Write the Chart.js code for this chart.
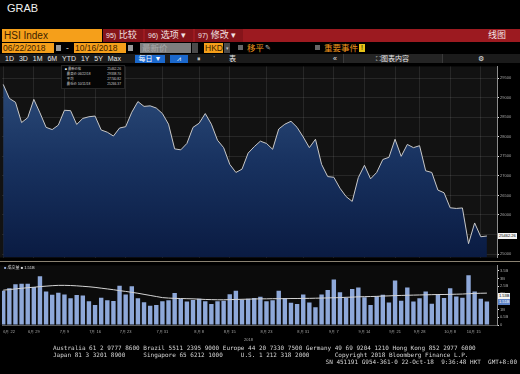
<!DOCTYPE html>
<html>
<head>
<meta charset="utf-8">
<script src="https://cdn.jsdelivr.net/npm/chart.js@4.4.1/dist/chart.umd.min.js"></script>
<style>
  body { margin: 0; background: #000; }
  #page { position: relative; width: 520px; height: 374px; overflow: hidden; background: #000;
          font-family: "Liberation Sans", "Noto Sans CJK SC", sans-serif; color: #ddd; }
  .abs { position: absolute; white-space: nowrap; box-sizing: border-box; }
  .orange { background: #f59f1a; color: #3c1e00; }
  .seg { top: 29px; height: 13px; line-height: 13px; background: #86141a; color: #f3e3e3; font-size: 9px; padding-left: 3px; }
  .row2 { top: 43px; height: 10px; line-height: 10px; font-size: 8.5px; }
  .row3 { top: 55px; height: 8px; line-height: 8px; font-size: 7px; color: #e8e8e8; }
  .blueBtn { background: #1b68cc; color: #fff; text-align: center; }
  .legendRow { display: flex; justify-content: space-between; }
  .tag { font-size: 4px; height: 6px; line-height: 6px; padding: 0 1px; }
  .foot { font-family: "DejaVu Sans Mono", monospace; font-size: 6px; color: #d6d6d6; white-space: pre; }
  canvas { position: absolute; left: 0; }
</style>
</head>
<body>
<div id="page">
  <div class="abs" style="left:7px;top:2px;font-size:11px;color:#f0f0f0">GRAB</div>

  <!-- toolbar row 1 -->
  <div class="abs orange" style="left:2px;top:29px;width:100px;height:13px;line-height:13px;font-size:10px;padding-left:2px">HSI Index</div>
  <div class="abs" style="left:103px;top:29px;width:417px;height:13px;background:#9c1a20"></div>
  <div class="abs seg" style="left:103px;width:40px"><span style="font-size:7px">95)</span> 比较</div>
  <div class="abs seg" style="left:145px;width:48px"><span style="font-size:7px">96)</span> 选项 ▾</div>
  <div class="abs seg" style="left:195px;width:48px"><span style="font-size:7px">97)</span> 修改 ▾</div>
  <div class="abs" style="left:488px;top:29px;height:13px;line-height:13px;font-size:9px;color:#f3e3e3">线图</div>

  <!-- toolbar row 2 -->
  <div class="abs row2 orange" style="left:2px;width:52px;padding-left:1px">06/22/2018</div>
  <div class="abs row2" style="left:56px;width:5px;height:6px;top:45px;background:#9a9a9a"></div>
  <div class="abs row2" style="left:66px;color:#ddd">-</div>
  <div class="abs row2 orange" style="left:74px;width:52px;padding-left:1px">10/16/2018</div>
  <div class="abs row2" style="left:128px;width:5px;height:6px;top:45px;background:#9a9a9a"></div>
  <div class="abs row2" style="left:140px;width:51px;background:#7e7e7e;color:#a9a9a9;padding-left:2px">最新价</div>
  <div class="abs row2" style="left:192px;width:6px;background:#4a4a4a"></div>
  <div class="abs row2 orange" style="left:204px;width:19px;padding-left:1px">HKD</div>
  <div class="abs row2" style="left:224px;width:6px;background:#4a4a4a;color:#ccc;font-size:5px;text-align:center">▾</div>
  <div class="abs" style="left:238px;top:45px;width:5px;height:5px;background:#666"></div>
  <div class="abs row2" style="left:247px;color:#f0961c">移平</div>
  <div class="abs row2" style="left:265px;color:#bbb;font-size:7px">✎</div>
  <div class="abs" style="left:315px;top:45px;width:5px;height:5px;background:#666"></div>
  <div class="abs row2" style="left:324px;color:#f0961c">重要事件</div>
  <div class="abs row2" style="left:359px;top:44px;width:6px;height:8px;line-height:8px;background:#e7c318;color:#000;font-size:7px;text-align:center">!</div>

  <!-- toolbar row 3 -->
  <div class="abs" style="left:0;top:54px;width:520px;height:9px;background:#1b1b1b"></div>
  <div class="abs row3" style="left:5px;word-spacing:3px">1D 3D 1M 6M YTD 1Y 5Y Max</div>
  <div class="abs row3 blueBtn" style="left:135px;width:30px">每日 ▼</div>
  <div class="abs row3 blueBtn" style="left:170px;width:18px">⩘</div>
  <div class="abs row3" style="left:197px">⏸</div>
  <div class="abs row3" style="left:213px">ˈ</div>
  <div class="abs row3" style="left:229px">表</div>
  <div class="abs row3" style="left:333px">«</div>
  <div class="abs" style="left:343px;top:54px;width:100px;height:9px;background:#242424;border-left:1px solid #3a3a3a;border-right:1px solid #3a3a3a"></div>
  <div class="abs row3" style="left:376px">⛶图表内容</div>
  <div class="abs row3" style="left:478px">⚙</div>

  <canvas id="priceChart" width="520" height="198" style="top:63px"></canvas>
  <canvas id="volumeChart" width="520" height="82" style="top:262px"></canvas>
  <div class="abs" style="left:0;top:261px;width:520px;height:1px;background:#8a8272"></div>

  <!-- price legend -->
  <div class="abs" style="left:61px;top:65px;width:64px;height:24px;background:#050505;border:1px solid #262626;font-size:3.3px;line-height:5px;color:#cfcfcf;padding:1px 3px 0 3px">
    <div class="legendRow"><span><span style="color:#fff">■</span> 最新价格</span><span>25462.26</span></div>
    <div class="legendRow"><span>&nbsp;&nbsp;最高价 06/22/18</span><span>29338.70</span></div>
    <div class="legendRow"><span>&nbsp;&nbsp;平均</span><span>27740.82</span></div>
    <div class="legendRow"><span>&nbsp;&nbsp;最低价 10/11/18</span><span>25266.37</span></div>
  </div>

  <!-- volume legend -->
  <div class="abs" style="left:4px;top:265px;font-size:4px;line-height:6px;color:#ddd">
    <span style="color:#8fa9da">■</span> 成交量 <span style="color:#ddd">■</span> 1.51B
  </div>

  <div id="priceTag" class="abs tag" style="left:498px;background:#f4f4f4;color:#000">25462.26</div>
  <div id="avgTag" class="abs tag" style="left:498px;background:#f4f4f4;color:#000">1.53B</div>
  <div id="volTag" class="abs tag" style="left:498px;background:#5d82c6;color:#fff">1.51B</div>

  <div class="abs" style="left:244px;top:337px;font-size:4px;color:#aaa">2018</div>

  <div class="abs foot" style="left:53px;top:344px">Australia 61 2 9777 8600 Brazil 5511 2395 9000 Europe 44 20 7330 7500 Germany 49 69 9204 1210 Hong Kong 852 2977 6000</div>
  <div class="abs foot" style="left:53px;top:351px">Japan 81 3 3201 8900     Singapore 65 6212 1000     U.S. 1 212 318 2000       Copyright 2018 Bloomberg Finance L.P.</div>
  <div class="abs foot" style="right:3px;top:358px">SN 451191 G954-361-0 22-Oct-18  9:36:48 HKT  GMT+8:00</div>
</div>

<script>
const dates = [
    '6月 22', '6月 25', '6月 26', '6月 27', '6月 28', '6月 29',
    '7月 3', '7月 4', '7月 5', '7月 6', '7月 9', '7月 10', '7月 11', '7月 12', '7月 13',
    '7月 16', '7月 17', '7月 18', '7月 19', '7月 20', '7月 23', '7月 24', '7月 25', '7月 26', '7月 27',
    '7月 30', '7月 31',
    '8月 1', '8月 2', '8月 3', '8月 6', '8月 7', '8月 8', '8月 9', '8月 10', '8月 13', '8月 14',
    '8月 15', '8月 16', '8月 17', '8月 20', '8月 21', '8月 22', '8月 23', '8月 24', '8月 27', '8月 28',
    '8月 29', '8月 30', '8月 31',
    '9月 3', '9月 4', '9月 5', '9月 6', '9月 7', '9月 10', '9月 11', '9月 12', '9月 13', '9月 14',
    '9月 17', '9月 18', '9月 19', '9月 20', '9月 21', '9月 24', '9月 26', '9月 27', '9月 28',
    '10月 2', '10月 3', '10月 4', '10月 5', '10月 8', '10月 9', '10月 10', '10月 11', '10月 12',
    '10月 15', '10月 16'
];

const closes = [
    29338.70, 28982, 28883, 28364, 28488, 28957,
    28611, 28241, 28184, 28298, 28678, 28668, 28315, 28470, 28512,
    28530, 28174, 28117, 28019, 28224, 28258, 28628, 28900, 28777, 28791,
    28735, 28594,
    28322, 27690, 27666, 27829, 28241, 28347, 28594, 28322, 27912, 27722,
    27295, 27088, 27172, 27582, 27747, 27888, 27829, 27680, 28199, 28322,
    28396, 28241, 27994,
    27722, 27937, 27295, 26982, 26964, 26685, 26471, 26347, 26957, 27271,
    26925, 27088, 27419, 27475, 27937, 27500, 27804, 27722, 27772,
    27130, 27088, 26636, 26569, 26184, 26167, 26180, 25266.37, 25796,
    25443, 25462.26
];

// volume in billions
const volumes = [
    2.22, 2.38, 2.63, 2.67, 2.67, 2.46,
    3.15, 2.17, 1.95, 2.09, 1.97, 1.72, 1.93, 1.91, 1.53,
    1.29, 1.76, 1.60, 1.55, 2.53, 1.97, 2.50, 1.72, 1.47, 1.24,
    1.29, 1.53,
    1.60, 2.07, 1.68, 1.51, 1.61, 1.70, 1.53, 1.35, 1.53, 1.57,
    1.99, 2.22, 1.63, 1.70, 1.74, 1.82, 1.53, 1.60, 2.22, 1.74,
    1.43, 1.35, 1.97,
    1.45, 1.14, 1.97, 2.26, 2.94, 2.11, 1.76, 2.32, 2.42, 1.80,
    1.29, 1.86, 1.95, 1.45, 2.88, 1.57, 2.42, 1.51, 1.72,
    2.17, 1.37, 1.97, 1.74, 2.38, 1.84, 1.76, 3.21, 2.17,
    1.70, 1.51
];

const volumeAvg = [
    2.25, 2.29, 2.33, 2.37, 2.41, 2.44,
    2.48, 2.51, 2.54, 2.56, 2.56, 2.55, 2.53, 2.50, 2.47,
    2.43, 2.38, 2.33, 2.28, 2.22, 2.17, 2.11, 2.05, 1.98, 1.91,
    1.84, 1.77,
    1.74, 1.72, 1.71, 1.70, 1.69, 1.67, 1.65, 1.64, 1.63, 1.63,
    1.64, 1.65, 1.66, 1.67, 1.68, 1.69, 1.69, 1.70, 1.70, 1.70,
    1.71, 1.71, 1.72,
    1.72, 1.73, 1.74, 1.75, 1.76, 1.77, 1.79, 1.80, 1.82, 1.83,
    1.84, 1.85, 1.87, 1.88, 1.90, 1.91, 1.92, 1.93, 1.94,
    1.95, 1.96, 1.97, 1.97, 1.98, 1.99, 2.00, 2.02, 2.04,
    2.05, 2.06
];

const labelIdx = [0, 5, 10, 15, 20, 26, 32, 37, 43, 49, 54, 59, 64, 68, 73, 78];
const priceTicks = [25000, 25500, 26000, 26500, 27000, 27500, 28000, 28500, 29000, 29500];
const volumeTicks = [0, 0.5, 1, 1.5, 2, 2.5, 3, 3.5];

const tickFont = { family: 'Liberation Sans', size: 4 };

// dark panel behind the plot, right axis stays black
const panelBg = {
    id: 'panelBg',
    beforeDraw(chart, args, opts) {
        const { ctx, chartArea } = chart;
        ctx.save();
        ctx.fillStyle = opts.color;
        ctx.fillRect(0, chartArea.top, chartArea.right, chartArea.height);
        ctx.restore();
    }
};

function timeAxis(height, showLabels) {
    return {
        type: 'linear',
        min: -0.2,
        max: 80.65,
        offset: false,
        afterBuildTicks: scale => { scale.ticks = labelIdx.map(i => ({ value: i })); },
        afterFit: scale => {
            scale.height = height;
            scale.paddingLeft = 0;
            scale.paddingRight = 0;
        },
        ticks: {
            display: showLabels,
            autoSkip: false,
            maxRotation: 0,
            align: 'inner',
            padding: 4,
            color: '#a8a8a8',
            font: tickFont,
            callback: value => dates[value]
        }
    };
}

function renderPriceChart() {
    const x = timeAxis(0, false);
    x.z = 1;
    x.grid = { color: 'rgba(255,255,255,0.09)', drawTicks: false, offset: false };
    x.border = { display: false };

    return new Chart(document.getElementById('priceChart'), {
        type: 'line',
        data: {
            datasets: [{
                data: closes.map((v, i) => ({ x: i, y: v })),
                borderColor: '#c8c8c8',
                borderWidth: 1,
                pointRadius: 0,
                tension: 0,
                fill: 'start',
                backgroundColor: context => {
                    const { ctx, chartArea } = context.chart;
                    if (!chartArea) return '#1d3660';
                    const g = ctx.createLinearGradient(0, chartArea.top, 0, chartArea.bottom);
                    g.addColorStop(0, '#2f4f7d');
                    g.addColorStop(0.5, '#183260');
                    g.addColorStop(1, '#0a1b42');
                    return g;
                }
            }]
        },
        options: {
            responsive: false,
            animation: false,
            layout: { padding: { left: 2, top: 0, right: 0, bottom: 0 } },
            plugins: {
                legend: { display: false },
                tooltip: { enabled: false },
                panelBg: { color: '#121212' }
            },
            scales: {
                x: x,
                y: {
                    position: 'right',
                    min: 24910,
                    max: 29800,
                    z: 1,
                    afterBuildTicks: scale => { scale.ticks = priceTicks.map(v => ({ value: v })); },
                    afterFit: scale => { scale.width = 23; },
                    grid: { color: 'rgba(255,255,255,0.09)', tickColor: '#e6e6e6', tickLength: 2 },
                    border: { color: '#8c8c8c' },
                    ticks: { color: '#a8a8a8', font: tickFont, padding: 1, callback: v => String(v) }
                }
            }
        },
        plugins: [panelBg]
    });
}

function renderVolumeChart() {
    const x = timeAxis(19, true);
    x.grid = { display: true, drawOnChartArea: false, drawTicks: false, offset: false };
    x.border = { color: '#5a5a5a' };

    return new Chart(document.getElementById('volumeChart'), {
        type: 'bar',
        data: {
            datasets: [{
                type: 'line',
                data: volumeAvg.map((v, i) => ({ x: i, y: v })),
                borderColor: '#d4d4d4',
                borderWidth: 1,
                pointRadius: 0,
                order: 0
            }, {
                data: volumes.map((v, i) => ({ x: i, y: v })),
                backgroundColor: '#8ea8d9',
                barPercentage: 0.72,
                categoryPercentage: 1,
                order: 1
            }]
        },
        options: {
            responsive: false,
            animation: false,
            layout: { padding: { left: 2, top: 1, right: 0, bottom: 0 } },
            plugins: {
                legend: { display: false },
                tooltip: { enabled: false },
                panelBg: { color: '#0b0b0b' }
            },
            scales: {
                x: x,
                y: {
                    position: 'right',
                    min: 0,
                    max: 3.85,
                    afterBuildTicks: scale => { scale.ticks = volumeTicks.map(v => ({ value: v })); },
                    afterFit: scale => { scale.width = 23; },
                    grid: { drawOnChartArea: false, tickColor: '#e6e6e6', tickLength: 2 },
                    border: { color: '#8c8c8c' },
                    ticks: { color: '#a8a8a8', font: tickFont, padding: 1, callback: v => (v === 0 ? '0' : v + 'B') }
                }
            }
        },
        plugins: [panelBg]
    });
}

// last-value tags on the right axes
function placeTags(priceChart, volumeChart) {
    const py = priceChart.scales.y.getPixelForValue(closes[closes.length - 1]);
    document.getElementById('priceTag').style.top = (63 + py - 3) + 'px';

    const vy = volumeChart.scales.y.getPixelForValue(volumes[volumes.length - 1]);
    document.getElementById('volTag').style.top = (262 + vy - 3) + 'px';
    document.getElementById('avgTag').style.top = (262 + vy - 9) + 'px';
}

const priceChart = renderPriceChart();
const volumeChart = renderVolumeChart();
placeTags(priceChart, volumeChart);
</script>
</body>
</html>
